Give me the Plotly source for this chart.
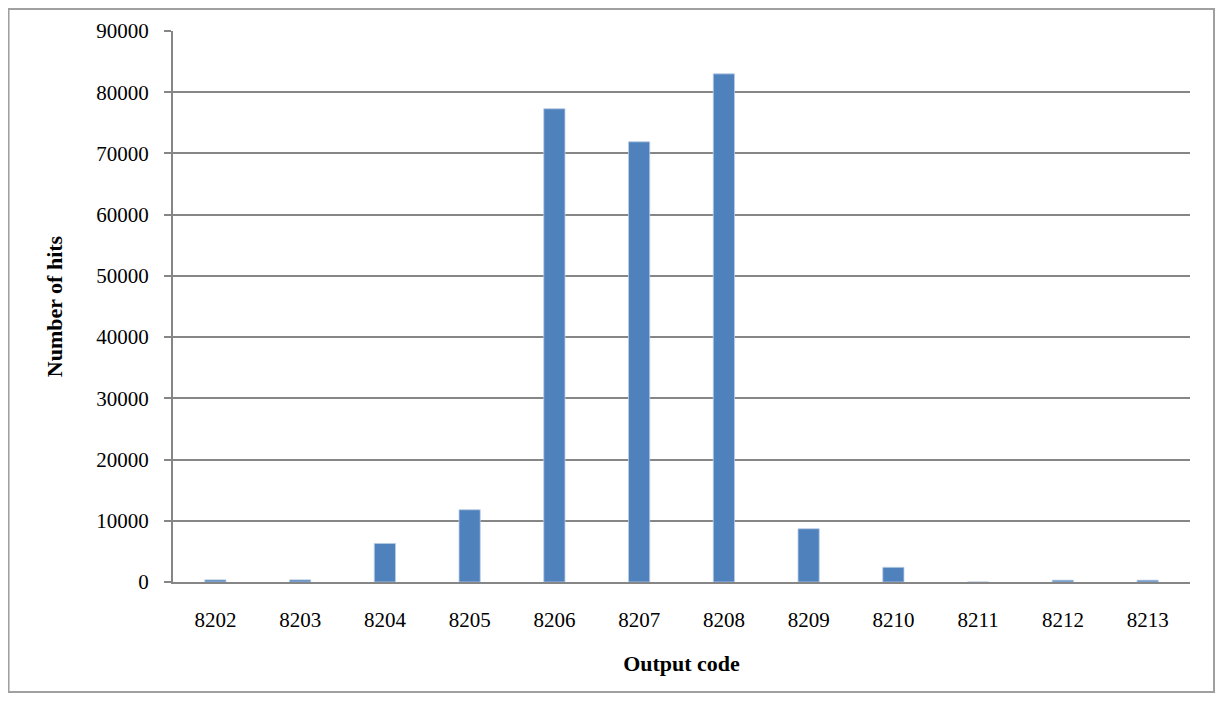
import plotly.graph_objects as go

categories = ["8202", "8203", "8204", "8205", "8206", "8207", "8208", "8209", "8210", "8211", "8212", "8213"]
hits = [350, 350, 6300, 11800, 77300, 71900, 83000, 8700, 2400, 0, 300, 300]
y_ticks = [0, 10000, 20000, 30000, 40000, 50000, 60000, 70000, 80000, 90000]
y_tick_labels = [str(v) for v in y_ticks]

fig = go.Figure()
fig.add_trace(go.Bar(
    x=categories, y=hits,
    marker=dict(color="#4F81BD", line=dict(color="#B9CDE5", width=0.8)),
    width=0.25,
))

serif = "Liberation Serif, Times New Roman, serif"
fig.update_layout(
    width=1207, height=685,
    margin=dict(l=165, r=25, t=23, b=111),
    paper_bgcolor="white", plot_bgcolor="white",
    showlegend=False,
    font=dict(family=serif, color="black", size=21),
    xaxis=dict(
        type="category",
        showline=True, linecolor="#868686", linewidth=2,
        ticks="", tickfont=dict(family=serif, size=21),
        ticklabelstandoff=18,
        title=dict(text="<b>Output code</b>", font=dict(family=serif, size=22), standoff=24),
        showgrid=False,
    ),
    yaxis=dict(
        range=[0, 90000], tickvals=y_ticks, ticktext=y_tick_labels,
        showline=True, linecolor="#868686", linewidth=2,
        ticks="outside", ticklen=7, tickcolor="#868686", tickwidth=2,
        ticklabelstandoff=11,
        showgrid=True, gridcolor="#868686", gridwidth=2,
        tickfont=dict(family=serif, size=21),
        title=dict(text="<b>Number of hits</b>", font=dict(family=serif, size=22), standoff=28),
        zeroline=False,
    ),
    shapes=[dict(
        type="rect", xref="paper", yref="paper",
        x0=-0.1617, x1=1.0236, y0=-0.1996, y1=1.04,
        line=dict(color="#A0A0A0", width=2), fillcolor="rgba(0,0,0,0)", layer="below",
    )],
)

fig.write_html("out.html")
